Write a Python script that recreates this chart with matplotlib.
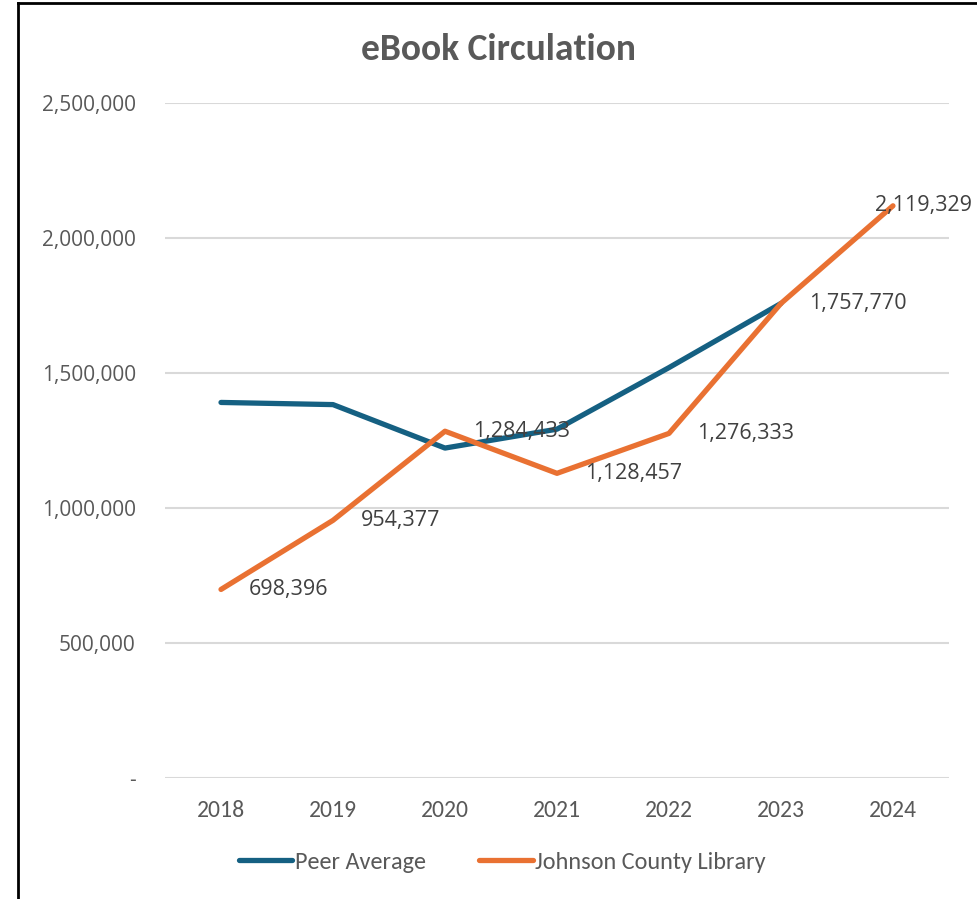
import matplotlib.pyplot as plt
from matplotlib.lines import Line2D

years = ['2018', '2019', '2020', '2021', '2022', '2023', '2024']
peer_avg = [1391000, 1383000, 1222000, 1292000, 1520000, 1757770]
jocolib = [698396, 954377, 1284433, 1128457, 1276333, 1757770, 2119329]
yticks = [0, 500000, 1000000, 1500000, 2000000, 2500000]

blue = '#156082'
orange = '#E97132'
grey = '#595959'
narrow = ['Carlito', 'DejaVu Sans']
wide = ['Open Sans', 'DejaVu Sans']

fig = plt.figure(figsize=(9.77, 8.99), dpi=100)
ax = fig.add_axes([0.1689, 0.1346, 0.8024, 0.7508])

x = list(range(len(years)))
ax.plot(x[:len(peer_avg)], peer_avg, color=blue, lw=3.8, solid_capstyle='round',
        solid_joinstyle='round', label='Peer Average', zorder=3)
ax.plot(x, jocolib, color=orange, lw=3.8, solid_capstyle='round',
        solid_joinstyle='round', label='Johnson County Library', zorder=4)

# value labels to the right of each library point (last one pulled back inside)
for i, v in enumerate(jocolib):
    dx = 20 if i < len(jocolib) - 1 else -13
    ax.annotate(f'{v:,}', (i, v), xytext=(dx, 0), textcoords='offset points',
                ha='left', va='center', fontsize=15.5, color='#404040',
                family=wide, zorder=5)

ax.set_xlim(-0.5, len(years) - 0.5)
ax.set_ylim(0, 2500000)
ax.set_xticks(x)
ax.set_xticklabels(years, family=narrow, fontsize=17, color=grey)
ax.set_yticks(yticks)
ax.set_yticklabels([f'{t:,}' if t else '-' for t in yticks],
                   family=wide, fontsize=15, color=grey)
ax.tick_params(length=0)
ax.tick_params(axis='x', pad=16)
ax.tick_params(axis='y', pad=21)
ax.yaxis.grid(True, color='#D9D9D9', lw=1.5)
ax.set_axisbelow(True)
for s in ax.spines.values():
    s.set_visible(False)

fig.text(0.51, 0.945, 'eBook Circulation', ha='center', va='center',
         fontsize=27, fontweight='bold', color=grey, family=narrow)

handles = [Line2D([], [], color=blue, lw=3.8, solid_capstyle='round'),
           Line2D([], [], color=orange, lw=3.8, solid_capstyle='round')]
fig.legend(handles, ['Peer Average', 'Johnson County Library'],
           loc='center', bbox_to_anchor=(0.514, 0.041), ncol=2, frameon=False,
           prop={'family': narrow, 'size': 17.5}, labelcolor=grey,
           handlelength=2.2, handletextpad=0.1, columnspacing=2.2)

# outer frame, top and left edges
fig.add_artist(Line2D([0.0185, 0.0185], [0, 0.997], color='black', lw=2,
                      transform=fig.transFigure))
fig.add_artist(Line2D([0.0185, 1.0], [0.997, 0.997], color='black', lw=2,
                      transform=fig.transFigure))

fig.savefig('out.png', dpi=100)
